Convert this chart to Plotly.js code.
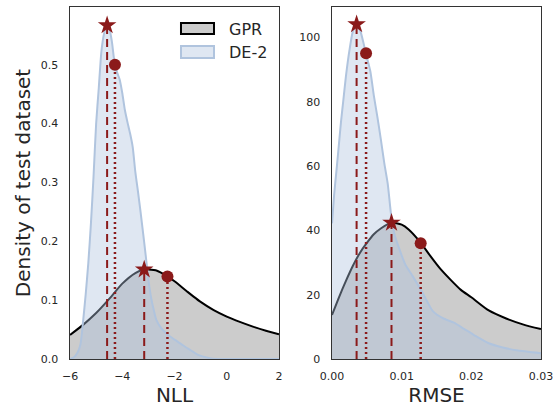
<!DOCTYPE html>
<html>
<head>
<meta charset="utf-8">
<script src="https://cdn.plot.ly/plotly-3.0.1.min.js"></script>
<style>html,body{margin:0;padding:0;background:#fff;}#chart{width:554px;height:408px;}</style>
</head>
<body>
<div id="chart"></div>
<script>
// ---- Data ----
const seriesNames = ["GPR", "DE-2"];

// NLL panel
const nllGprX = [-6, -5.5, -5, -4.5, -4, -3.5, -3.17, -3.0, -2.67, -2.26, -2, -1.5, -1.27, -1, -0.5, 0, 0.5, 1, 1.5, 2];
const nllGprY = [0.041, 0.058, 0.078, 0.102, 0.128, 0.146, 0.152, 0.152, 0.150, 0.140, 0.132, 0.114, 0.106, 0.097, 0.083, 0.072, 0.063, 0.055, 0.048, 0.042];
const nllDeX = [-6, -5.85, -5.7, -5.6, -5.5, -5.4, -5.3, -5.2, -5.1, -5.0, -4.9, -4.8, -4.7, -4.59, -4.5, -4.4, -4.3, -4.2, -4.1, -4.0, -3.9, -3.8, -3.7, -3.6, -3.5, -3.4, -3.3, -3.2, -3.1, -3.0, -2.9, -2.8, -2.7, -2.5, -2.3, -2.1, -1.9, -1.7, -1.5, -1.3, -1.1, -0.9, -0.6, -0.2, 0.5, 1.2, 2];
const nllDeY = [0, 0.003, 0.012, 0.025, 0.064, 0.11, 0.163, 0.23, 0.31, 0.40, 0.46, 0.522, 0.552, 0.567, 0.562, 0.54, 0.505, 0.487, 0.475, 0.452, 0.423, 0.402, 0.383, 0.36, 0.318, 0.285, 0.25, 0.213, 0.175, 0.135, 0.105, 0.084, 0.067, 0.052, 0.043, 0.036, 0.030, 0.024, 0.018, 0.0125, 0.007, 0.004, 0.001, 0, 0, 0, 0];
// modes (star, dashed) and means (dot, dotted): [GPR, DE-2]
const nllModeX = [-3.16, -4.58];
const nllModeY = [0.152, 0.567];
const nllMeanX = [-2.27, -4.28];
const nllMeanY = [0.140, 0.500];

// RMSE panel
const rmseGprX = [0, 0.001, 0.002, 0.003, 0.004, 0.005, 0.006, 0.007, 0.0085, 0.01, 0.011, 0.0128, 0.014, 0.0155, 0.017, 0.0185, 0.02, 0.0225, 0.025, 0.0275, 0.03];
const rmseGprY = [13.7, 19.2, 24.3, 29, 33, 36.1, 38.8, 40.6, 42.4, 41.8, 40.3, 36, 32.4, 28.2, 24.7, 21.5, 19.2, 15.1, 12.6, 10.7, 9.3];
const rmseDeX = [0, 0.0003, 0.0007, 0.001, 0.0013, 0.0016, 0.002, 0.0025, 0.003, 0.0035, 0.004, 0.0045, 0.00486, 0.0055, 0.006, 0.0065, 0.007, 0.0075, 0.008, 0.0085, 0.009, 0.0097, 0.0105, 0.0116, 0.013, 0.0145, 0.016, 0.0175, 0.019, 0.0205, 0.0225, 0.0245, 0.0265, 0.03];
const rmseDeY = [42.2, 51, 60, 67, 74, 80, 88, 96, 102, 104.1, 102.5, 98.5, 95.1, 89.5, 82, 75.5, 68.5, 61, 54.5, 44.5, 38.5, 34, 29.5, 25.7, 20.6, 14.8, 12.6, 11.3, 9.3, 7.3, 4.9, 3.6, 2.7, 1.8];
const rmseModeX = [0.00854, 0.00353];
const rmseModeY = [42.4, 104.1];
const rmseMeanX = [0.01273, 0.00489];
const rmseMeanY = [36.0, 95.1];

// Axis ticks / labels
const nllTicks = [-6, -4, -2, 0, 2];
const nllYTicks = [0, 0.1, 0.2, 0.3, 0.4, 0.5];
const rmseTicks = [0, 0.01, 0.02, 0.03];
const rmseYTicks = [0, 20, 40, 60, 80, 100];
const xTitles = ["NLL", "RMSE"];
const yTitle = "Density of test dataset";

// ---- Styles ----
const RED = "#8b1a1a";
const TXT = "#262626";
const FONT = "DejaVu Sans, sans-serif";
const gprStyle = {line: {color: "#000000", width: 2, shape: "spline", smoothing: 0.6}, fillcolor: "rgba(128,128,128,0.4)"};
const deStyle = {line: {color: "rgb(176,196,222)", width: 2, shape: "spline", smoothing: 0.6}, fillcolor: "rgba(176,196,222,0.4)"};

function densityTraces(xa, ya, gx, gy, dx, dy) {
  return [
    Object.assign({x: gx, y: gy, type: "scatter", mode: "lines", fill: "tozeroy", name: seriesNames[0], xaxis: xa, yaxis: ya, showlegend: false, hoverinfo: "skip"}, gprStyle),
    Object.assign({x: dx, y: dy, type: "scatter", mode: "lines", fill: "tozeroy", name: seriesNames[1], xaxis: xa, yaxis: ya, showlegend: false, hoverinfo: "skip"}, deStyle)
  ];
}
function markerTraces(xa, ya, mx, my, ex, ey) {
  const t = [];
  for (let i = 0; i < mx.length; i++) {
    t.push({x: [mx[i], mx[i]], y: [0, my[i]], type: "scatter", mode: "lines", xaxis: xa, yaxis: ya, showlegend: false, hoverinfo: "skip",
            line: {color: RED, width: 2, dash: "8px,5px"}});
    t.push({x: [ex[i], ex[i]], y: [0, ey[i]], type: "scatter", mode: "lines", xaxis: xa, yaxis: ya, showlegend: false, hoverinfo: "skip",
            line: {color: RED, width: 2.5, dash: "2px,3px"}});
  }
  t.push({x: mx, y: my, type: "scatter", mode: "markers", xaxis: xa, yaxis: ya, showlegend: false, hoverinfo: "skip",
          marker: {symbol: "star", size: 14, color: RED}});
  t.push({x: ex, y: ey, type: "scatter", mode: "markers", xaxis: xa, yaxis: ya, showlegend: false, hoverinfo: "skip",
          marker: {symbol: "circle", size: 12, color: RED}});
  return t;
}

const data = [].concat(
  densityTraces("x", "y", nllGprX, nllGprY, nllDeX, nllDeY),
  markerTraces("x", "y", nllModeX, nllModeY, nllMeanX, nllMeanY),
  densityTraces("x2", "y2", rmseGprX, rmseGprY, rmseDeX, rmseDeY),
  markerTraces("x2", "y2", rmseModeX, rmseModeY, rmseMeanX, rmseMeanY)
);

const axBase = {showgrid: false, zeroline: false, showline: true, mirror: true, linecolor: "#333333", linewidth: 1.5,
                ticks: "", tickfont: {family: FONT, size: 11, color: TXT}, fixedrange: true};

const layout = {
  width: 554, height: 408,
  margin: {l: 0, r: 0, t: 0, b: 0},
  paper_bgcolor: "#ffffff", plot_bgcolor: "#ffffff",
  font: {family: FONT, color: TXT},
  showlegend: false,
  xaxis: Object.assign({}, axBase, {domain: [0.1264, 0.5036], range: [-6, 2], tickvals: nllTicks, ticklabelstandoff: 6,
          title: {text: xTitles[0], font: {family: FONT, size: 20, color: TXT}, standoff: 4}}),
  yaxis: Object.assign({}, axBase, {domain: [0.1201, 0.9828], range: [0, 0.598], tickvals: nllYTicks, tickformat: ".1f", ticklabelstandoff: 8,
          title: {text: yTitle, font: {family: FONT, size: 20, color: TXT}, standoff: 5}}),
  xaxis2: Object.assign({}, axBase, {domain: [0.5993, 0.9765], range: [0, 0.03], tickvals: rmseTicks, tickformat: ".2f", ticklabelstandoff: 6, anchor: "y2",
          title: {text: xTitles[1], font: {family: FONT, size: 20, color: TXT}, standoff: 4}}),
  yaxis2: Object.assign({}, axBase, {domain: [0.1201, 0.9828], range: [0, 109.5], tickvals: rmseYTicks, ticklabelstandoff: 8, anchor: "x2"}),
  shapes: [
    {type: "rect", xref: "paper", yref: "paper", x0: 0.3267, x1: 0.3863, y0: 0.9167, y1: 0.9436,
     fillcolor: "#cccccc", line: {color: "#000000", width: 2}},
    {type: "rect", xref: "paper", yref: "paper", x0: 0.3267, x1: 0.3863, y0: 0.8578, y1: 0.8873,
     fillcolor: "#dfe7f2", line: {color: "rgb(176,196,222)", width: 2}}
  ],
  annotations: [
    {xref: "paper", yref: "paper", x: 0.4097, y: 0.9289, xanchor: "left", yanchor: "middle", showarrow: false,
     text: seriesNames[0], font: {family: FONT, size: 16, color: TXT}},
    {xref: "paper", yref: "paper", x: 0.4097, y: 0.8725, xanchor: "left", yanchor: "middle", showarrow: false,
     text: seriesNames[1], font: {family: FONT, size: 16, color: TXT}}
  ]
};

Plotly.newPlot("chart", data, layout, {staticPlot: true, displayModeBar: false});
</script>
</body>
</html>
